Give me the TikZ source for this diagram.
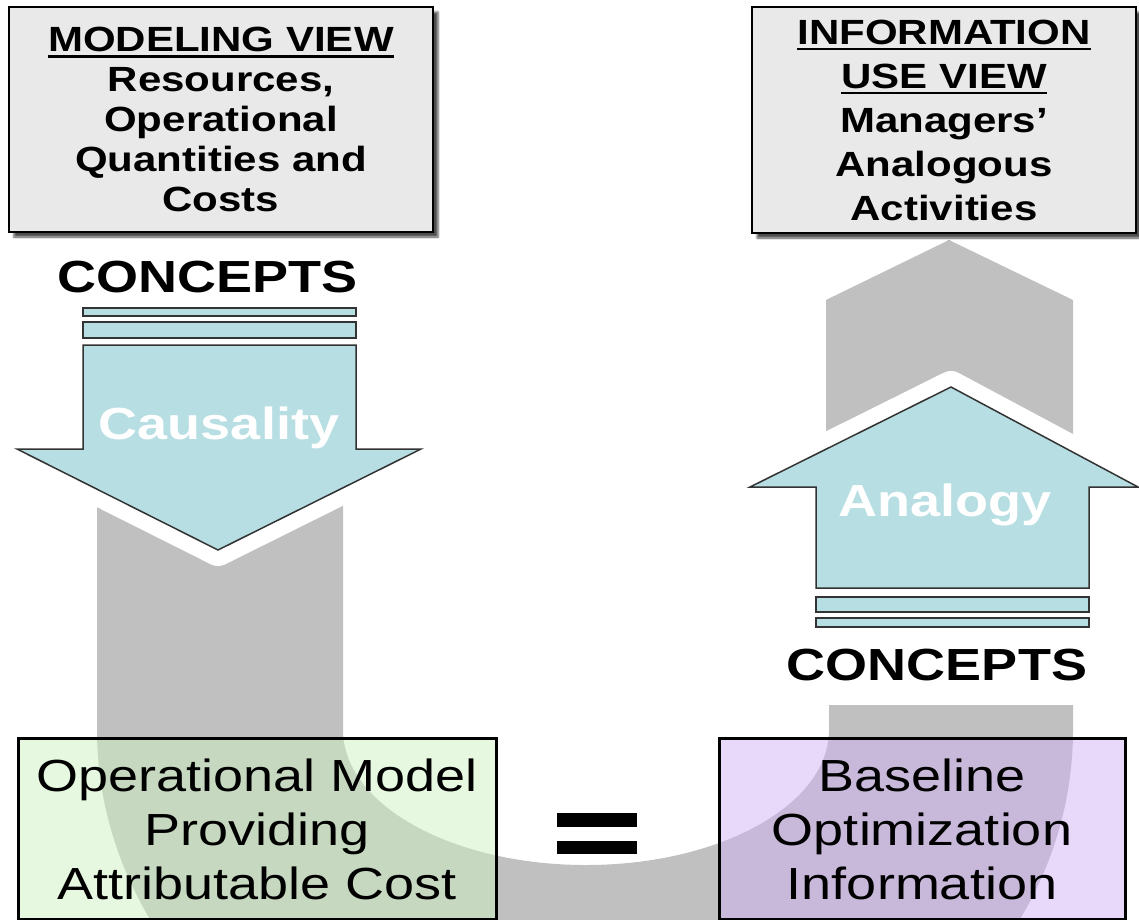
\documentclass[tikz,border=0pt]{standalone}
\usepackage{fontspec}
\setmainfont{Liberation Sans}[FakeStretch=1.2]
\usetikzlibrary{shadows,shadows.blur}
\definecolor{bandgray}{RGB}{192,192,192}
\definecolor{arrowblue}{RGB}{183,222,226}
\definecolor{viewgray}{RGB}{233,233,233}
\definecolor{modelgreen}{RGB}{205,241,193}
\definecolor{infoviolet}{RGB}{209,177,245}
\newsavebox{\ulbox}
\newcommand{\headul}[1]{\sbox{\ulbox}{#1}\rlap{\rule[-6pt]{\wd\ulbox}{2.5pt}}\usebox{\ulbox}}
\begin{document}
\begin{tikzpicture}[x=1pt,y=-1pt,
    band/.style={fill=bandgray},
    halo/.style={preaction={draw=white,line width=32pt,line join=round}},
    blockarrow/.style={halo,fill=arrowblue,draw=black!80,line width=1.5pt},
    bar/.style={fill=arrowblue,draw=black!80,line width=1.5pt},
    viewbox/.style={draw,line width=2.5pt,fill=viewgray,inner sep=0pt,align=center,
      blur shadow={shadow xshift=5pt,shadow yshift=-5pt,shadow opacity=70,shadow blur steps=4}},
    resultbox/.style={draw,line width=3pt,fill opacity=0.5,text opacity=1,
      draw opacity=1,inner sep=0pt,align=center,font=\fontsize{45}{54}\selectfont},
    concepts/.style={font=\fontsize{45}{45}\selectfont\bfseries},
    arrowtext/.style={text=white,font=\fontsize{45}{45}\selectfont\bfseries}]
    \useasboundingbox (0,0) rectangle (1139,919);
    \clip (0,0) rectangle (1139,919);
    % grey U band behind everything
    \fill[band] (97,460) -- (97,730)
      arc[start angle=180,end angle=0,x radius=488,y radius=417]
      -- (1073,705) -- (829,705) -- (829,730)
      arc[start angle=0,end angle=180,x radius=243,y radius=135]
      -- (343,460) -- cycle;
    \fill[band] (949,240) -- (1073,300) -- (1073,520) -- (826,520) -- (826,300) -- cycle;
    % views
    \node[viewbox,minimum width=424pt,minimum height=225pt,
      font=\fontsize{35}{40}\selectfont\bfseries] (model) at (221,119.5)
      {\headul{MODELING VIEW}\\Resources,\\Operational\\Quantities and\\Costs};
    \node[viewbox,minimum width=384pt,minimum height=226pt,
      font=\fontsize{35}{44}\selectfont\bfseries] (use) at (944,120)
      {\headul{INFORMATION}\\\headul{USE VIEW}\\Managers’\\Analogous\\Activities};
    % causality arrow
    \node[concepts] (conceptsL) at (208,277) {CONCEPTS};
    \draw[blockarrow] (83,345) -- (356,345) -- (356,449) -- (421,449)
      -- (218,550) -- (17,449) -- (83,449) -- cycle;
    \draw[bar] (83,308) rectangle (356,316);
    \draw[bar] (83,322) rectangle (356,338);
    \node[arrowtext] (causality) at (219,428) {Causality};
    % analogy arrow
    \draw[blockarrow] (816,588) -- (816,487) -- (750,487) -- (951,387)
      -- (1138,487) -- (1089,487) -- (1089,588) -- cycle;
    \node[arrowtext] (analogy) at (945,505) {Analogy};
    \draw[bar] (816,597) rectangle (1089,612);
    \draw[bar] (816,618) rectangle (1089,627);
    \node[concepts] (conceptsR) at (937,665) {CONCEPTS};
    % results
    \node[resultbox,fill=modelgreen,minimum width=478pt,minimum height=181pt]
      (opmodel) at (257,829)
      {Operational Model\\Providing\\Attributable Cost};
    \node[resultbox,fill=infoviolet,minimum width=406pt,minimum height=181pt]
      (baseline) at (922,829)
      {Baseline\\Optimization\\Information};
    \fill (557,813) rectangle (637,827);
    \fill (557,841) rectangle (637,854);
\end{tikzpicture}
\end{document}
